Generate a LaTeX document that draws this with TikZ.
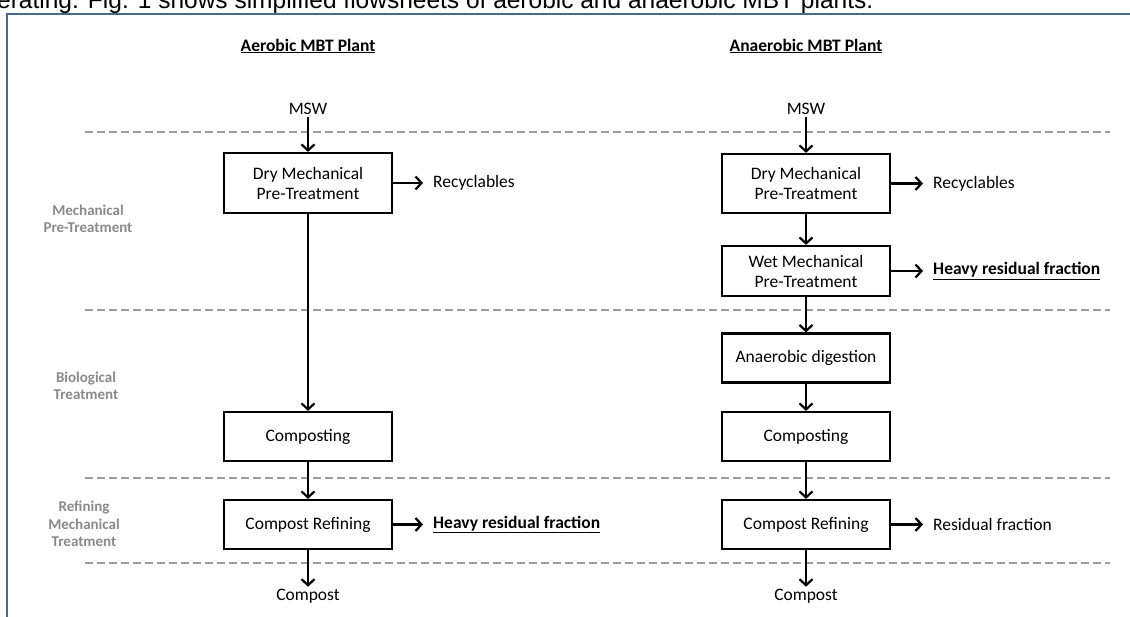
\documentclass[tikz,border=0pt]{standalone}
\usepackage{fontspec}
\setmainfont{Carlito}
\newfontfamily\arialfont{Liberation Sans}
\usetikzlibrary{arrows.meta}
\definecolor{framec}{HTML}{4A6A8C}
\definecolor{labgray}{HTML}{8A8A8A}
\definecolor{dashgray}{HTML}{9C9C9C}
\begin{document}
\begin{tikzpicture}[x=1pt,y=-1pt,
  box/.style={draw=black, line width=2.2pt, minimum width=168pt, inner sep=0pt, align=center, font=\fontsize{17.5}{20}\selectfont},
  txt/.style={font=\fontsize{17.5}{20}\selectfont, inner sep=2pt},
  outtxt/.style={font=\fontsize{17.5}{20}\selectfont, inner ysep=2pt, inner xsep=10pt, anchor=west},
  title/.style={font=\fontsize{17.5}{20}\selectfont\bfseries, inner sep=0pt},
  lab/.style={font=\fontsize{15}{17.5}\selectfont\bfseries, text=labgray, align=center, inner sep=0pt},
  flow/.style={line width=2.2pt, -{Straight Barb[length=6pt,width=13pt]}},
  sep/.style={dashgray, line width=2.2pt, dash pattern=on 8pt off 4pt}
]
\useasboundingbox (0,0) rectangle (1130,617);
\fill[white] (0,0) rectangle (1130,617);
% cut caption text at top
\begin{scope}
\clip (0,0) rectangle (1130,617);
\node[anchor=base west, inner sep=0pt, font=\fontsize{24.5}{28}\selectfont\arialfont] (cap) at (-3,9) {erating. Fig. 1 shows simplified flowsheets of aerobic and anaerobic MBT plants.};
\end{scope}
% frame
\draw[framec, line width=2pt] (7,620) -- (7,14) -- (1132,14);

% separators
\foreach \yy in {132,310,478,563} \draw[sep] (85,\yy) -- (1110,\yy);

% side labels
\node[lab] (l1) at (88,219) {Mechanical\\Pre-Treatment};
\node[lab] (l2) at (86,386) {Biological\\Treatment};
\node[lab] (l3) at (84,524) {Refining\\Mechanical\\Treatment};

% titles
\node[title] (t1) at (308,46) {\underline{Aerobic MBT Plant}};
\node[title] (t2) at (806,46) {\underline{Anaerobic MBT Plant}};

% aerobic column
\node[txt] (a0) at (308,109) {MSW};
\node[box, minimum height=60pt] (a1) at (308,183) {Dry Mechanical\\Pre-Treatment};
\node[outtxt] (ar1) at (423,183) {Recyclables};
\node[box, minimum height=49pt] (a2) at (308,436.5) {Composting};
\node[box, minimum height=49pt] (a3) at (308,524.5) {Compost Refining};
\node[outtxt] (ar3) at (423,524.5) {\bfseries\underline{Heavy residual fraction}};
\node[txt] (a4) at (308,596) {Compost};

\draw[flow] (a0) -- (a1);
\draw[flow] (a1) -- (ar1);
\draw[flow] (a1) -- (a2);
\draw[flow] (a2) -- (a3);
\draw[flow] (a3) -- (ar3);
\draw[flow] (a3) -- (a4);

% anaerobic column
\node[txt] (b0) at (806,109) {MSW};
\node[box, minimum height=59pt] (b1) at (806,183.5) {Dry Mechanical\\Pre-Treatment};
\node[outtxt] (br1) at (923,183.5) {Recyclables};
\node[box, minimum height=50pt] (b2) at (806,271) {Wet Mechanical\\Pre-Treatment};
\node[outtxt] (br2) at (923,271) {\bfseries\underline{Heavy residual fraction}};
\node[box, minimum height=49pt] (b3) at (806,358) {Anaerobic digestion};
\node[box, minimum height=49pt] (b4) at (806,436.5) {Composting};
\node[box, minimum height=49pt] (b5) at (806,524.5) {Compost Refining};
\node[outtxt] (br5) at (923,524.5) {Residual fraction};
\node[txt] (b6) at (806,596) {Compost};

\draw[flow] (b0) -- (b1);
\draw[flow] (b1) -- (br1);
\draw[flow] (b1) -- (b2);
\draw[flow] (b2) -- (br2);
\draw[flow] (b2) -- (b3);
\draw[flow] (b3) -- (b4);
\draw[flow] (b4) -- (b5);
\draw[flow] (b5) -- (br5);
\draw[flow] (b5) -- (b6);
\end{tikzpicture}
\end{document}
